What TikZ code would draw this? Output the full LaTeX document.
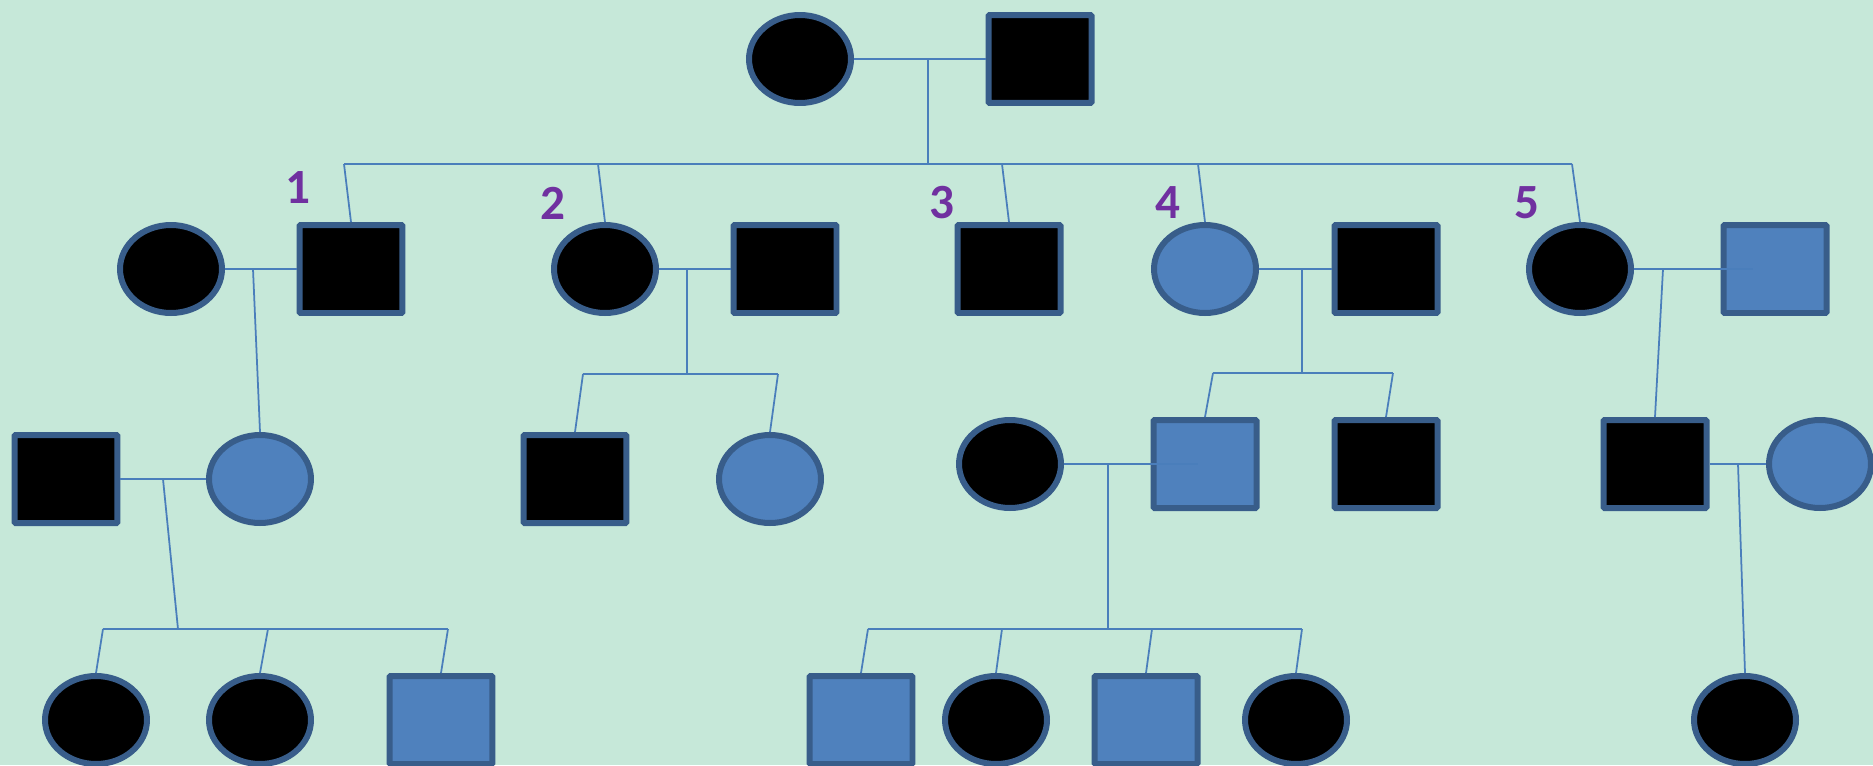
\documentclass[tikz,border=0pt]{standalone}
\usepackage{xcolor}
\usepackage{fontspec}
\newfontfamily\numfont{Carlito}
\usepackage{tikz}
\usetikzlibrary{shapes.geometric}

\definecolor{mint}{RGB}{198,232,217}
\definecolor{fillblue}{RGB}{79,129,189}
\definecolor{edgeblue}{RGB}{56,93,138}
\definecolor{linkblue}{RGB}{74,126,187}
\definecolor{numpurple}{RGB}{112,48,160}

\begin{document}
\begin{tikzpicture}[
    x=0.02cm, y=-0.02cm,
    person/.style={draw=edgeblue, line width=0.12cm, inner sep=0pt, minimum height=1.76cm},
    male/.style={person, rectangle, rounded corners=0.6pt, minimum width=2.06cm, fill=black},
    female/.style={person, ellipse, minimum width=2.04cm, fill=black},
    carrier/.style={fill=fillblue},
    link/.style={draw=linkblue, line width=1pt},
    num/.style={text=numpurple, inner sep=0pt, font=\numfont\bfseries\fontsize{28}{32}\selectfont}
]
    \useasboundingbox (0,0) rectangle (1873,765);
    \fill[mint] (0,0) rectangle (1873,765);

    \node[female] (g1f) at (800,59) {};
    \node[male] (g1m) at (1040,59) {};

    \node[female] (w1) at (171,269) {};
    \node[male] (k1) at (351,269) {};
    \node[female] (k2) at (605,269) {};
    \node[male] (w2) at (785,269) {};
    \node[male] (k3) at (1009,269) {};
    \node[female, carrier] (k4) at (1205,269) {};
    \node[male] (w4) at (1386,269) {};
    \node[female] (k5) at (1580,269) {};
    \node[male, carrier] (w5) at (1775,269) {};

    \node[num] (n1) at (298,188) {1};
    \node[num] (n2) at (553,203) {2};
    \node[num] (n3) at (942,203) {3};
    \node[num] (n4) at (1168,203) {4};
    \node[num] (n5) at (1527,203) {5};

    \node[male] (h1) at (66,479) {};
    \node[female, carrier] (d1) at (260,479) {};
    \node[male] (d2) at (575,479) {};
    \node[female, carrier] (d3) at (770,479) {};
    \node[female] (h4) at (1010,464) {};
    \node[male, carrier] (d4) at (1205,464) {};
    \node[male] (d5) at (1386,464) {};
    \node[male] (d6) at (1655,464) {};
    \node[female, carrier] (h6) at (1820,464) {};

    \node[female] (a1) at (96,720) {};
    \node[female] (a2) at (260,720) {};
    \node[male, carrier] (a3) at (441,720) {};
    \node[male, carrier] (a4) at (861,720) {};
    \node[female] (a5) at (996,720) {};
    \node[male, carrier] (a6) at (1146,720) {};
    \node[female] (a7) at (1296,720) {};
    \node[female] (a8) at (1745,720) {};

    \coordinate (u0) at (928,59);
    \coordinate (v0) at (928,164);
    \coordinate (b1) at (344,164);
    \coordinate (b2) at (598,164);
    \coordinate (b3) at (1002,164);
    \coordinate (b4) at (1198,164);
    \coordinate (b5) at (1572,164);
    \draw[link] (g1f) -- (g1m);
    \draw[link] (u0) -- (v0);
    \draw[link] (b1) -- (b5);
    \draw[link] (b1) -- (k1.north);
    \draw[link] (b2) -- (k2.north);
    \draw[link] (b3) -- (k3.north);
    \draw[link] (b4) -- (k4.north);
    \draw[link] (b5) -- (k5.north);

    \coordinate (u1) at (253,269);
    \draw[link] (w1) -- (k1);
    \draw[link] (u1) -- (d1.north);

    \coordinate (u2) at (687,269);
    \coordinate (v2) at (687,374);
    \coordinate (c1) at (583,374);
    \coordinate (c2) at (778,374);
    \draw[link] (k2) -- (w2);
    \draw[link] (u2) -- (v2);
    \draw[link] (c1) -- (c2);
    \draw[link] (c1) -- (d2.north);
    \draw[link] (c2) -- (d3.north);

    \coordinate (u4) at (1302,269);
    \coordinate (v4) at (1302,373);
    \coordinate (c3) at (1213,373);
    \coordinate (c4) at (1393,373);
    \draw[link] (k4) -- (w4);
    \draw[link] (u4) -- (v4);
    \draw[link] (c3) -- (c4);
    \draw[link] (c3) -- (d4.north);
    \draw[link] (c4) -- (d5.north);

    \coordinate (u5) at (1663,269);
    \draw[link, shorten >=0.44cm] (k5) -- (w5.center);
    \draw[link] (u5) -- (d6.north);

    \coordinate (u6) at (163,479);
    \coordinate (v6) at (178,629);
    \coordinate (e1) at (103,629);
    \coordinate (e2) at (268,629);
    \coordinate (e3) at (448,629);
    \draw[link] (h1) -- (d1);
    \draw[link] (u6) -- (v6);
    \draw[link] (e1) -- (e3);
    \draw[link] (e1) -- (a1.north);
    \draw[link] (e2) -- (a2.north);
    \draw[link] (e3) -- (a3.north);

    \coordinate (u7) at (1108,464);
    \coordinate (v7) at (1108,629);
    \coordinate (e4) at (868,629);
    \coordinate (e5) at (1002,629);
    \coordinate (e6) at (1152,629);
    \coordinate (e7) at (1302,629);
    \draw[link, shorten >=0.14cm] (h4) -- (d4.center);
    \draw[link] (u7) -- (v7);
    \draw[link] (e4) -- (e7);
    \draw[link] (e4) -- (a4.north);
    \draw[link] (e5) -- (a5.north);
    \draw[link] (e6) -- (a6.north);
    \draw[link] (e7) -- (a7.north);

    \coordinate (u8) at (1738,464);
    \draw[link] (d6) -- (h6);
    \draw[link] (u8) -- (a8.north);
\end{tikzpicture}
\end{document}
